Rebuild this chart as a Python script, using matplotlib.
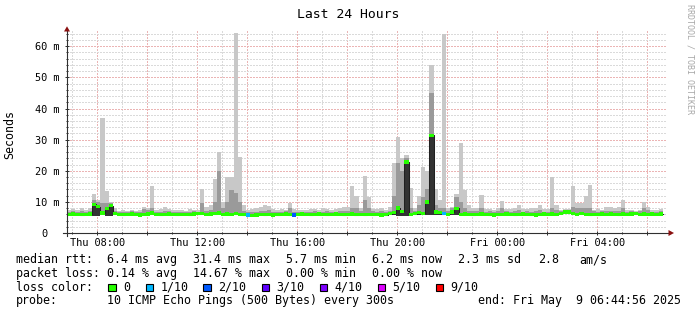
import numpy as np
import matplotlib
matplotlib.use("Agg")
import matplotlib.pyplot as plt
from matplotlib.patches import Rectangle, Polygon
from matplotlib.ticker import MultipleLocator, FixedLocator, FixedFormatter, FuncFormatter

W, H = 697, 315
plt.rcParams['font.family'] = ['DejaVu Sans Mono']

# ---------------- data (10-minute bins starting Thu 06:47) ----------------
start_hour = 6 + 47 / 60
bin_hours = 1 / 6

median = [
    6.0, 6.1, 6.0, 5.9, 6.0, 6.1, 9.2, 8.5, 6.4, 7.9, 8.8, 6.2,
    6.0, 5.9, 6.0, 6.1, 6.0, 5.8, 6.0, 6.1, 6.4, 6.0, 5.9, 6.0,
    6.1, 6.0, 5.9, 6.0, 6.0, 5.9, 6.1, 6.2, 6.3, 6.0, 6.1, 6.2,
    6.4, 6.0, 6.1, 6.0, 6.2, 6.0, 5.9, 5.8, 5.7, 5.8, 6.0, 5.9,
    6.0, 5.8, 5.9, 6.0, 6.1, 5.9, 5.8, 6.0, 6.1, 6.0, 5.9, 6.0,
    6.1, 6.0, 5.9, 6.0, 6.1, 6.0, 5.9, 6.0, 6.1, 5.9, 6.0, 5.9,
    6.0, 5.9, 6.0, 5.8, 5.9, 6.2, 6.5, 8.0, 7.0, 22.8, 6.0, 6.2,
    6.5, 6.3, 10.0, 31.4, 6.8, 6.5, 6.2, 6.0, 6.8, 7.9, 6.0, 6.1,
    6.0, 5.9, 6.0, 6.1, 6.0, 5.9, 5.8, 5.9, 6.0, 6.1, 6.0, 5.9,
    6.0, 6.1, 6.0, 5.9, 5.8, 6.0, 6.1, 6.0, 6.1, 6.0, 6.3, 6.7,
    6.8, 6.2, 6.0, 6.3, 6.0, 5.9, 6.0, 5.9, 6.1, 6.0, 6.1, 6.0,
    5.9, 6.1, 6.0, 6.1, 6.2, 6.0, 6.1, 6.0, 6.1, 6.0, 6.1,
]

smoke_min = [
    5.6, 5.7, 5.6, 5.5, 5.6, 5.7, 5.6, 5.6, 5.8, 5.6, 5.6, 5.8,
    5.6, 5.5, 5.6, 5.7, 5.6, 5.4, 5.6, 5.7, 5.8, 5.6, 5.5, 5.6,
    5.7, 5.6, 5.5, 5.6, 5.6, 5.5, 5.7, 5.8, 5.8, 5.6, 5.7, 5.8,
    5.9, 5.6, 5.7, 5.6, 5.8, 5.6, 5.5, 5.4, 5.3, 5.4, 5.6, 5.5,
    5.6, 5.4, 5.5, 5.6, 5.7, 5.5, 5.4, 5.6, 5.7, 5.6, 5.5, 5.6,
    5.7, 5.6, 5.5, 5.6, 5.7, 5.6, 5.5, 5.6, 5.7, 5.5, 5.6, 5.5,
    5.6, 5.5, 5.6, 5.4, 5.5, 5.8, 5.7, 5.6, 5.6, 5.6, 5.6, 5.8,
    5.8, 5.9, 5.7, 5.7, 5.8, 5.8, 5.8, 5.6, 5.8, 5.7, 5.6, 5.7,
    5.6, 5.5, 5.6, 5.7, 5.6, 5.5, 5.4, 5.5, 5.6, 5.7, 5.6, 5.5,
    5.6, 5.7, 5.6, 5.5, 5.4, 5.6, 5.7, 5.6, 5.7, 5.6, 5.9, 6.0,
    6.0, 5.8, 5.6, 5.9, 5.6, 5.5, 5.6, 5.5, 5.7, 5.6, 5.7, 5.6,
    5.5, 5.7, 5.6, 5.7, 5.8, 5.6, 5.7, 5.6, 5.7, 5.6, 5.7,
]

smoke_mid = [
    6.8, 7.0, 6.9, 7.2, 6.9, 7.0, 10.5, 10.0, 9.5, 9.6, 9.6, 7.0,
    6.8, 6.9, 6.7, 7.0, 6.8, 6.9, 7.6, 7.4, 8.0, 6.8, 6.9, 7.2,
    7.0, 6.8, 6.9, 6.8, 6.7, 6.9, 7.0, 6.8, 9.5, 7.0, 7.5, 10.0,
    20.0, 8.0, 10.0, 13.8, 13.0, 10.0, 7.0, 6.8, 6.7, 6.8, 7.0, 7.2,
    7.4, 6.9, 6.8, 6.9, 7.0, 8.0, 6.8, 6.9, 6.7, 6.8, 6.9, 7.0,
    6.8, 6.9, 7.0, 6.8, 6.9, 7.0, 7.2, 7.0, 8.0, 8.0, 7.0, 10.6,
    8.0, 7.0, 6.9, 7.0, 6.8, 7.0, 12.0, 22.4, 20.0, 24.0, 8.0, 7.0,
    9.0, 11.6, 14.0, 45.0, 9.0, 8.0, 8.0, 7.0, 8.0, 11.6, 10.0, 8.0,
    7.0, 7.0, 7.2, 8.0, 6.9, 7.0, 6.8, 7.0, 8.0, 7.0, 6.9, 7.0,
    7.5, 6.9, 7.0, 6.8, 7.0, 7.5, 6.9, 6.8, 8.0, 7.5, 7.0, 7.2,
    7.3, 8.4, 8.0, 8.0, 8.0, 8.0, 7.0, 6.9, 7.0, 7.2, 7.0, 7.0,
    7.2, 8.0, 6.9, 7.0, 6.8, 7.0, 8.0, 7.3, 6.9, 6.8, 7.0,
]

smoke_max = [
    7.3, 7.6, 7.4, 7.9, 7.5, 8.0, 12.5, 10.6, 37.0, 13.6, 10.0, 8.0,
    7.2, 7.4, 7.0, 7.3, 7.1, 7.4, 8.3, 8.0, 15.0, 7.4, 7.6, 8.4,
    7.8, 7.4, 7.5, 7.3, 7.2, 7.6, 7.5, 7.4, 14.0, 8.5, 9.0, 17.5,
    26.0, 10.0, 18.0, 18.0, 64.3, 24.5, 9.0, 7.4, 7.6, 8.0, 8.4, 9.0,
    8.6, 7.6, 7.5, 7.7, 7.4, 9.5, 7.6, 7.4, 7.3, 7.5, 7.8, 7.6,
    7.4, 7.9, 7.6, 7.5, 7.8, 8.0, 8.4, 8.2, 15.0, 12.0, 8.0, 18.3,
    11.5, 7.8, 7.6, 7.9, 7.5, 8.2, 22.4, 30.8, 24.0, 25.0, 14.5, 8.0,
    12.0, 21.3, 20.0, 54.0, 14.0, 10.6, 64.0, 8.0, 8.4, 12.5, 29.0, 13.8,
    9.0, 8.0, 8.0, 12.2, 7.6, 7.8, 7.5, 8.0, 10.4, 7.8, 7.6, 8.0,
    9.0, 7.8, 7.6, 7.9, 8.0, 9.0, 7.8, 7.6, 18.0, 9.0, 7.5, 7.6,
    7.8, 15.0, 9.6, 9.6, 12.0, 15.4, 7.5, 7.8, 7.5, 8.4, 8.4, 8.0,
    8.4, 10.6, 7.3, 7.5, 7.2, 7.5, 10.0, 8.4, 7.5, 7.3, 7.8,
]

# lost pings out of 10 per bin
loss = [
    0, 0, 0, 0, 0, 0, 0, 0, 0, 0, 0, 0,
    0, 0, 0, 0, 0, 0, 0, 0, 0, 0, 0, 0,
    0, 0, 0, 0, 0, 0, 0, 0, 0, 0, 0, 0,
    0, 0, 0, 0, 0, 0, 0, 1, 0, 0, 0, 0,
    0, 0, 0, 0, 0, 0, 2, 0, 0, 0, 0, 0,
    0, 0, 0, 0, 0, 0, 0, 0, 0, 0, 0, 0,
    0, 0, 0, 0, 0, 0, 0, 0, 0, 0, 0, 0,
    0, 0, 0, 0, 0, 0, 1, 0, 0, 0, 0, 0,
    0, 0, 0, 0, 0, 0, 0, 0, 0, 0, 0, 0,
    0, 0, 0, 0, 0, 0, 0, 0, 0, 0, 0, 0,
    0, 0, 0, 0, 0, 0, 0, 0, 0, 0, 0, 0,
    0, 0, 0, 0, 0, 0, 0, 0, 0, 0, 0,
]

loss_levels = [0, 1, 2, 3, 4, 5, 9]
loss_labels = ["0", "1/10", "2/10", "3/10", "4/10", "5/10", "9/10"]
loss_colors = ["#26ff00", "#00b8ff", "#0059ff", "#5e00ff", "#7e00ff", "#dd00ff", "#ff0000"]

x_label_hours = [8, 12, 16, 20, 24, 28]
x_labels = ["Thu 08:00", "Thu 12:00", "Thu 16:00", "Thu 20:00", "Fri 00:00", "Fri 04:00"]
y_ticks = [0, 10, 20, 30, 40, 50, 60]
y_labels = ["0", "10 m", "20 m", "30 m", "40 m", "50 m", "60 m"]

title = "Last 24 Hours"
legend_rows = [
    [("median rtt:", 16.3), ("6.4 ms avg", 107), ("31.4 ms max", 193), ("5.7 ms min", 285.6),
     ("6.2 ms now", 372.3), ("2.3 ms sd", 458), ("2.8", 538), ("am/s", 579)],
    [("packet loss:", 16.3), ("0.14 % avg", 107), ("14.67 % max", 193), ("0.00 % min", 285.6),
     ("0.00 % now", 372.3)],
    [("loss color:", 16.3)],
    [("probe:", 16.3), ("10 ICMP Echo Pings (500 Bytes) every 300s", 107),
     ("end: Fri May  9 06:44:56 2025", 478)],
]
row_baselines = [263.3, 277.0, 290.7, 304.4]
box_x = [108.3, 145.7, 203.3, 261.7, 320.0, 377.7, 436.0]
box_label_x = [123.5, 160.5, 218.0, 276.3, 334.6, 392.0, 450.3]

# ---------------- figure ----------------
def fx(px):
    return px / W

def fy(py):
    return 1 - py / H

fig = plt.figure(figsize=(W / 100, H / 100), dpi=100)
fig.patch.set_facecolor('white')
ax_left, ax_right, ax_bottom, ax_top = 67, 667, 233, 30.7
ax = fig.add_axes([fx(ax_left), fy(ax_bottom), (ax_right - ax_left) / W, (ax_bottom - ax_top) / H])
ax.set_facecolor('white')

ymax = 65
ax.set_xlim(start_hour, start_hour + 24)
ax.set_ylim(0, ymax)

n = len(median)
edges = start_hour + np.arange(n + 1) * bin_hours

def steps(v):
    v = np.asarray(v, float)
    xx = np.column_stack([edges[:-1], edges[1:]]).ravel()
    return xx, np.repeat(v, 2)

xx, lo = steps(smoke_min)
_, hi = steps(smoke_max)
_, mid = steps(smoke_mid)
_, med = steps(median)

ax.fill_between(xx, lo, hi, color='#c8c8c8', lw=0, zorder=1)
ax.fill_between(xx, lo, mid, color='#9a9a9a', lw=0, zorder=1.1)
ax.fill_between(xx, lo, med, color='#333333', lw=0, zorder=1.2)
ax.plot(xx, med, color='#202020', lw=0.75, zorder=3)

px_per_unit = (ax_bottom - ax_top) / ymax
half = 1.7 / px_per_unit
loss_arr = np.repeat(np.asarray(loss), 2)
for lvl, col in zip(loss_levels, loss_colors):
    mask = loss_arr == lvl
    if mask.any():
        ax.fill_between(xx, med - half, med + half, where=mask, color=col, lw=0, zorder=3.5)

# grid
ax.xaxis.set_major_locator(MultipleLocator(2))
ax.xaxis.set_minor_locator(MultipleLocator(1))
ax.yaxis.set_major_locator(FixedLocator(y_ticks))
ax.yaxis.set_major_formatter(FixedFormatter(y_labels))
ax.yaxis.set_minor_locator(MultipleLocator(2))
lab_map = dict(zip(x_label_hours, x_labels))
ax.xaxis.set_major_formatter(FuncFormatter(lambda v, p: lab_map.get(int(round(v)), "")))

ax.set_axisbelow(True)
ax.grid(which='minor', color='#dadada', ls=(0, (1, 1)), lw=0.75, antialiased=False)
ax.grid(which='major', color='#ebb4b4', ls=(0, (1, 1)), lw=0.75, antialiased=False)
for gl in ax.get_xgridlines() + ax.get_ygridlines():
    gl.set_zorder(0.5)

for s in ax.spines.values():
    s.set_visible(False)

ax.tick_params(which='major', direction='inout', length=3, width=0.72, color='#303030',
               labelsize=7.35, labelcolor='black')
ax.tick_params(which='minor', direction='inout', length=2, width=0.72, color='#303030')
ax.tick_params(axis='y', which='major', pad=3.6)
ax.tick_params(axis='x', which='major', pad=2.2)
yt = ax.yaxis.get_major_ticks()
yt[0].set_pad(12.4)

# axis lines and arrows
axis_col = '#303030'
ax.plot([-4 / 600, 1 + 1.5 / 600], [0, 0], transform=ax.transAxes, clip_on=False,
        color=axis_col, lw=0.8, zorder=5)
ax.plot([0, 0], [-3 / (ax_bottom - ax_top), 1], transform=ax.transAxes, clip_on=False,
        color=axis_col, lw=0.8, zorder=5)
arrow_col = '#8a1010'
def pts(lst):
    return [(x / 100, (H - y) / 100) for x, y in lst]
fig.add_artist(Polygon(pts([(67, 26.3), (64, 31.5), (70, 31.5)]), closed=True,
                       transform=fig.dpi_scale_trans, color=arrow_col, lw=0))
fig.add_artist(Polygon(pts([(674, 233), (668.5, 230), (668.5, 236)]), closed=True,
                       transform=fig.dpi_scale_trans, color=arrow_col, lw=0))

# title, axis label, watermark
fig.text(fx(347.7), fy(18.3), title, ha='center', va='baseline', fontsize=9.45)
fig.text(fx(9.5), fy(134.5), "Seconds", rotation=90, ha='center', va='center', fontsize=8.4)
fig.text(fx(690), fy(4), "RRDTOOL / TOBI OETIKER", rotation=270, ha='center', va='top',
         fontsize=6.0, color='#a8a8a8')

# legend
for row, yb in zip(legend_rows, row_baselines):
    for txt, xp in row:
        fig.text(fx(xp), fy(yb), txt, ha='left', va='baseline', fontsize=8.4)

box = 7.3
for bx, lx, lab, col in zip(box_x, box_label_x, loss_labels, loss_colors):
    fig.add_artist(Rectangle((bx / 100, (H - 291.2) / 100), box / 100, box / 100,
                             transform=fig.dpi_scale_trans, facecolor=col,
                             edgecolor='black', lw=0.8))
    fig.text(fx(lx), fy(row_baselines[2]), lab, ha='left', va='baseline', fontsize=8.4)

fig.savefig("out.png", dpi=100, facecolor='white')
